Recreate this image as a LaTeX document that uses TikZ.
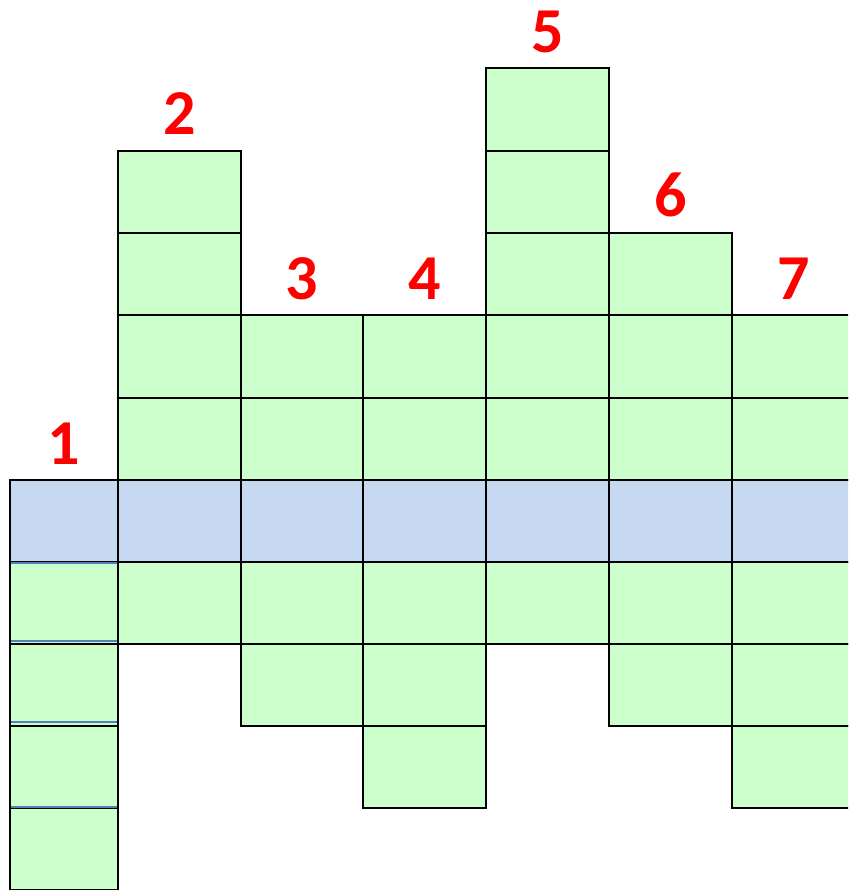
\documentclass[tikz,border=0pt]{standalone}
\usepackage{fontspec}
\setmainfont{Carlito}
\definecolor{cellgreen}{HTML}{CCFFCC}
\definecolor{cellblue}{HTML}{C6D9F1}
\definecolor{linblue}{HTML}{4F81BD}
\begin{document}
\begin{tikzpicture}[x=1pt,y=-1pt,
  cell/.style={draw=black,line width=1.5pt},
  seam/.style={draw=linblue,line width=2pt},
  lbl/.style={text=red,font=\fontsize{64}{64}\selectfont\bfseries,anchor=base,inner sep=0pt}]
\useasboundingbox (0,0) rectangle (848,890);
\fill[white] (0,0) rectangle (848,890);
\begin{scope}
\clip (0,0) rectangle (848,890);
\def\xs{{10,118,241,363,486,609,732,855}}
\def\ys{{68,151,233,315,398,480,562,644,726,808,890}}
\foreach \c/\t/\b in {0/5/9,1/1/6,2/3/7,3/3/8,4/0/6,5/2/7,6/3/8} {
  \foreach \r in {\t,...,\b} {
    \pgfmathsetmacro\xa{\xs[\c]}
    \pgfmathsetmacro\xb{\xs[\c+1]}
    \pgfmathsetmacro\ya{\ys[\r]}
    \pgfmathsetmacro\yb{\ys[\r+1]}
    \ifnum\r=5 \def\fc{cellblue}\else\def\fc{cellgreen}\fi
    \path[cell,fill=\fc] (\xa,\ya) rectangle (\xb,\yb);
  }
}
\coordinate (s1a) at (11,562.5); \coordinate (s1b) at (117,562.5);
\coordinate (s2a) at (11,641);   \coordinate (s2b) at (117,641);
\coordinate (s3a) at (11,722);   \coordinate (s3b) at (117,722);
\coordinate (s4a) at (11,806.5); \coordinate (s4b) at (117,806.5);
\draw[seam] (s1a) -- (s1b);
\draw[seam] (s2a) -- (s2b);
\draw[seam] (s3a) -- (s3b);
\draw[seam] (s4a) -- (s4b);
\end{scope}
\node[lbl] (n1) at (64,464) {1};
\node[lbl] (n2) at (179.5,135) {2};
\node[lbl] (n3) at (302,299) {3};
\node[lbl] (n4) at (424.5,299) {4};
\node[lbl] (n5) at (547.5,53) {5};
\node[lbl] (n6) at (670.5,217) {6};
\node[lbl] (n7) at (793.5,299) {7};
\end{tikzpicture}
\end{document}
